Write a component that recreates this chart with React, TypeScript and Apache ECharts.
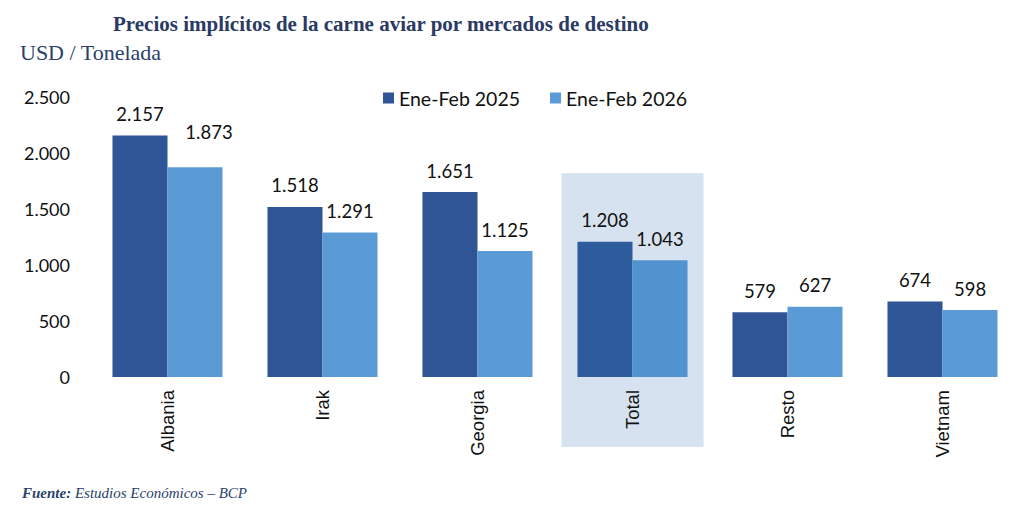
import React, { useEffect, useRef } from "react";
import * as echarts from "echarts";

const categories = ["Albania", "Irak", "Georgia", "Total", "Resto", "Vietnam"];
const seriesNames = ["Ene-Feb 2025", "Ene-Feb 2026"];
const values2025 = [2157, 1518, 1651, 1208, 579, 674];
const values2026 = [1873, 1291, 1125, 1043, 627, 598];
const yTicks = { min: 0, max: 2500, interval: 500 };
const highlightCategory = "Total";

const fmt = (v: number) => String(Math.round(v)).replace(/\B(?=(\d{3})+(?!\d))/g, ".");

const DARK = "#2F5597";
const LIGHT = "#5B9BD5";
const DARK_T = "#2D5B9C";
const LIGHT_T = "#5093CE";
const FONT = "Lato, 'Open Sans', sans-serif";
const SERIF = "'Liberation Serif', 'DejaVu Serif', serif";

export default function App() {
  const ref = useRef<HTMLDivElement>(null);
  useEffect(() => {
    if (!ref.current) return;
    const chart = echarts.init(ref.current, null, { renderer: "svg" });
    const labelStyle = { fontFamily: FONT, fontSize: 18.5, color: "#111" };
    const mk = (vals: number[], c: string, ct: string, raiseFirst: boolean) =>
      vals.map((v, i) => {
        const item: any = {
          value: v,
          itemStyle: { color: categories[i] === highlightCategory ? ct : c },
        };
        if (raiseFirst && i === 0) item.label = { offset: [14, -14] };
        return item;
      });
    chart.setOption({
      animation: false,
      grid: { left: 90, right: 4, top: 97, bottom: 140, containLabel: false },
      title: [
        {
          text: "Precios implícitos de la carne aviar por mercados de destino",
          left: 113,
          top: 13,
          padding: 0,
          textStyle: { fontFamily: SERIF, fontSize: 21, fontWeight: "bold", color: "#2B3A63" },
        },
        {
          text: "USD / Tonelada",
          left: 20,
          top: 41,
          padding: 0,
          textStyle: { fontFamily: SERIF, fontSize: 22, fontWeight: "normal", color: "#2B3F6B" },
        },
        {
          text: "{b|Fuente:} Estudios Económicos – BCP",
          left: 22,
          top: 485,
          padding: 0,
          textStyle: {
            fontFamily: SERIF,
            fontSize: 15,
            fontStyle: "italic",
            fontWeight: "normal",
            color: "#2B3F6B",
            rich: {
              b: { fontFamily: SERIF, fontSize: 15, fontStyle: "italic", fontWeight: "bold", color: "#2B3F6B" },
            },
          },
        },
      ],
      legend: {
        data: seriesNames,
        left: 383,
        top: 88,
        padding: 0,
        itemWidth: 11,
        itemHeight: 11,
        itemGap: 30,
        icon: "rect",
        textStyle: { fontFamily: FONT, fontSize: 19.5, color: "#111" },
      },
      xAxis: {
        type: "category",
        data: categories,
        axisLine: { show: false },
        axisTick: { show: false },
        axisLabel: { rotate: 90, fontFamily: "'Liberation Sans', Arial, sans-serif", fontSize: 18.5, color: "#111", margin: 13 },
      },
      yAxis: {
        type: "value",
        min: yTicks.min,
        max: yTicks.max,
        interval: yTicks.interval,
        splitLine: { show: false },
        axisLine: { show: false },
        axisTick: { show: false },
        axisLabel: { formatter: (v: number) => fmt(v), fontFamily: FONT, fontSize: 18, color: "#111", margin: 20 },
      },
      series: [
        {
          name: seriesNames[0],
          type: "bar",
          data: mk(values2025, DARK, DARK_T, false),
          itemStyle: { color: DARK },
          barGap: "0%",
          barCategoryGap: "29%",
          label: { show: true, position: "top", distance: 12, formatter: (p: any) => fmt(p.value), ...labelStyle },
        },
        {
          name: seriesNames[1],
          type: "bar",
          data: mk(values2026, LIGHT, LIGHT_T, true),
          itemStyle: { color: LIGHT },
          label: { show: true, position: "top", distance: 12, formatter: (p: any) => fmt(p.value), ...labelStyle },
        },
      ],
    });
    const cx = chart.convertToPixel({ xAxisIndex: 0 }, highlightCategory) as number;
    const yTop = chart.convertToPixel({ yAxisIndex: 0 }, 1820) as number;
    const y0 = chart.convertToPixel({ yAxisIndex: 0 }, 0) as number;
    const halfW = 71;
    chart.setOption({
      graphic: [
        {
          type: "rect",
          z: -10,
          shape: { x: cx - halfW, y: yTop, width: halfW * 2, height: y0 - yTop + 70 },
          style: { fill: "#D6E2EF" },
          silent: true,
        },
      ],
    });
    return () => chart.dispose();
  }, []);
  return <div ref={ref} style={{ position: "fixed", left: 0, top: 0, width: 1024, height: 517, background: "#fff" }} />;
}
